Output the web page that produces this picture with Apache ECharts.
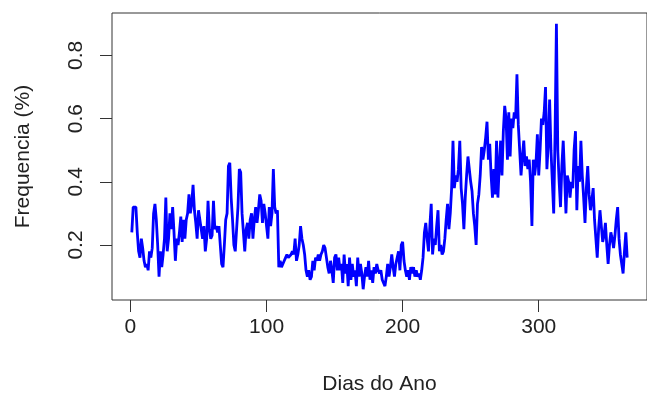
<!DOCTYPE html>
<html>
<head>
<meta charset="utf-8">
<script src="https://cdn.jsdelivr.net/npm/echarts@6/dist/echarts.min.js"></script>
<style>
  html, body { margin: 0; padding: 0; background: #fff; }
  #chart { width: 647px; height: 403px; }
</style>
</head>
<body>
<div id="chart"></div>
<script>
// frequency per day of year
const frequencia = [
  0.24, 0.32, 0.32, 0.32, 0.24, 0.18, 0.16, 0.22, 0.19, 0.15,
  0.13, 0.14, 0.12, 0.18, 0.16, 0.19, 0.30, 0.33, 0.28, 0.20,
  0.10, 0.18, 0.13, 0.17, 0.22, 0.35, 0.18, 0.22, 0.30, 0.25,
  0.32, 0.24, 0.15, 0.22, 0.20, 0.24, 0.29, 0.21, 0.28, 0.22,
  0.28, 0.30, 0.36, 0.30, 0.33, 0.39, 0.31, 0.27, 0.22, 0.31,
  0.28, 0.25, 0.22, 0.26, 0.18, 0.22, 0.34, 0.25, 0.22, 0.23,
  0.34, 0.25, 0.26, 0.24, 0.26, 0.20, 0.14, 0.13, 0.20, 0.28,
  0.30, 0.45, 0.46, 0.35, 0.28, 0.20, 0.18, 0.25, 0.32, 0.44,
  0.43, 0.30, 0.24, 0.18, 0.25, 0.27, 0.22, 0.28, 0.30, 0.22,
  0.28, 0.32, 0.27, 0.31, 0.36, 0.34, 0.27, 0.33, 0.30, 0.26,
  0.22, 0.32, 0.26, 0.30, 0.44, 0.32, 0.30, 0.31, 0.13, 0.15,
  0.13, 0.13, 0.15, 0.16, 0.17, 0.16, 0.16, 0.17, 0.18, 0.17,
  0.22, 0.15, 0.17, 0.20, 0.26, 0.22, 0.20, 0.17, 0.12, 0.10,
  0.12, 0.09, 0.10, 0.15, 0.12, 0.16, 0.15, 0.17, 0.15, 0.17,
  0.18, 0.20, 0.19, 0.16, 0.13, 0.11, 0.15, 0.12, 0.08, 0.16,
  0.17, 0.12, 0.16, 0.12, 0.14, 0.08, 0.17, 0.11, 0.14, 0.07,
  0.16, 0.09, 0.14, 0.10, 0.12, 0.07, 0.16, 0.10, 0.14, 0.11,
  0.06, 0.10, 0.13, 0.10, 0.15, 0.09, 0.12, 0.08, 0.13, 0.11,
  0.14, 0.12, 0.11, 0.12, 0.09, 0.08, 0.07, 0.10, 0.14, 0.10,
  0.13, 0.17, 0.13, 0.10, 0.14, 0.16, 0.18, 0.12, 0.20, 0.21,
  0.15, 0.12, 0.10, 0.12, 0.09, 0.13, 0.11, 0.13, 0.10, 0.12,
  0.10, 0.11, 0.09, 0.12, 0.16, 0.24, 0.27, 0.22, 0.18, 0.26,
  0.33, 0.17, 0.22, 0.20, 0.26, 0.31, 0.18, 0.20, 0.17, 0.18,
  0.22, 0.28, 0.33, 0.25, 0.30, 0.38, 0.53, 0.38, 0.42, 0.40,
  0.44, 0.53, 0.38, 0.33, 0.25, 0.35, 0.42, 0.48, 0.44, 0.40,
  0.37, 0.30, 0.26, 0.20, 0.33, 0.36, 0.42, 0.51, 0.47, 0.50,
  0.54, 0.59, 0.47, 0.52, 0.42, 0.35, 0.44, 0.36, 0.53, 0.35,
  0.45, 0.53, 0.42, 0.56, 0.64, 0.60, 0.47, 0.62, 0.48, 0.60,
  0.57, 0.62, 0.60, 0.74, 0.58, 0.50, 0.42, 0.48, 0.53, 0.45,
  0.48, 0.44, 0.47, 0.40, 0.26, 0.47, 0.42, 0.46, 0.55, 0.42,
  0.50, 0.60, 0.58, 0.62, 0.70, 0.44, 0.52, 0.66, 0.50, 0.40,
  0.30, 0.55, 0.90, 0.50, 0.40, 0.32, 0.45, 0.53, 0.42, 0.30,
  0.42, 0.40, 0.35, 0.40, 0.38, 0.50, 0.56, 0.31, 0.45, 0.40,
  0.53, 0.42, 0.35, 0.27, 0.38, 0.45, 0.36, 0.31, 0.34, 0.38,
  0.28, 0.22, 0.16, 0.25, 0.31, 0.26, 0.21, 0.23, 0.27, 0.20,
  0.14, 0.20, 0.24, 0.22, 0.19, 0.23, 0.28, 0.32, 0.22, 0.17,
  0.14, 0.11, 0.18, 0.24, 0.16
];
const dias = frequencia.map((_, i) => i + 1);

const xTicks = [0, 100, 200, 300];
const yTicks = [0.2, 0.4, 0.6, 0.8];

const font = "Liberation Sans";
const ink = "#222";

const chart = echarts.init(document.getElementById("chart"), null, { renderer: "canvas" });
chart.setOption({
  animation: false,
  backgroundColor: "#fff",
  grid: {
    left: 112, right: -5, top: 13, bottom: 103,
    show: true, borderColor: "#333", borderWidth: 1, backgroundColor: "transparent"
  },
  xAxis: {
    type: "value",
    min: -13.56, max: 379.56,
    name: "Dias do Ano",
    nameLocation: "middle",
    nameGap: 74,
    nameTextStyle: { fontFamily: font, fontSize: 21, color: ink },
    axisLine: { show: false, onZero: false },
    splitLine: { show: false },
    axisTick: { show: true, length: 12, customValues: xTicks, lineStyle: { color: "#333", width: 1 } },
    axisLabel: { customValues: xTicks, margin: 17, fontFamily: font, fontSize: 21, color: ink }
  },
  yAxis: {
    type: "value",
    min: 0.026, max: 0.934,
    name: "Frequencia (%)",
    nameLocation: "middle",
    nameGap: 78,
    nameRotate: 90,
    nameTextStyle: { fontFamily: font, fontSize: 21, color: ink },
    axisLine: { show: false, onZero: false },
    splitLine: { show: false },
    axisTick: { show: true, length: 12, customValues: yTicks, lineStyle: { color: "#333", width: 1 } },
    axisLabel: { customValues: yTicks, rotate: 90, margin: 25, fontFamily: font, fontSize: 21, color: ink }
  },
  series: [{
    type: "line",
    data: dias.map((d, i) => [d, frequencia[i]]),
    showSymbol: false,
    lineStyle: { color: "#0000ff", width: 2.8 },
    itemStyle: { color: "#0000ff" }
  }]
});
</script>
</body>
</html>
